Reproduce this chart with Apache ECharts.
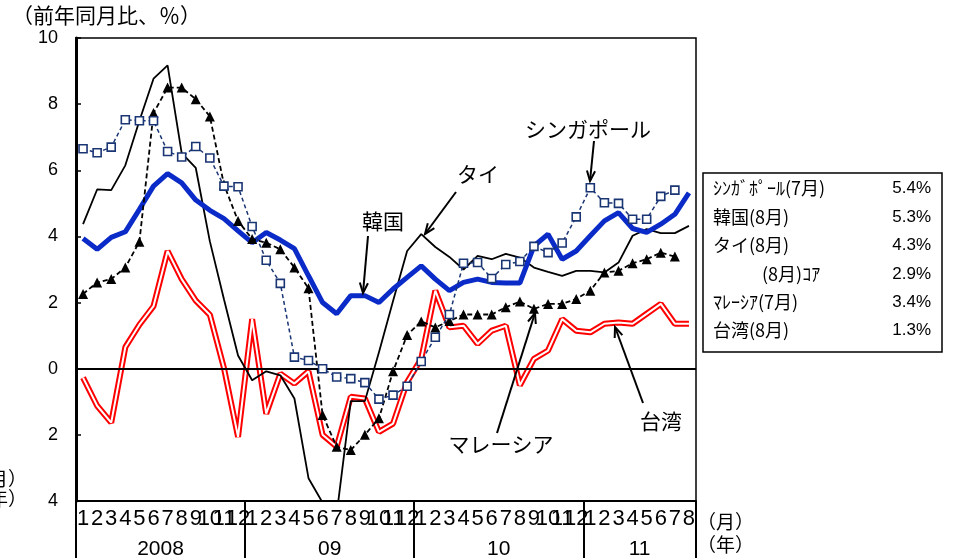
<!DOCTYPE html>
<html><head><meta charset="utf-8">
<script src="https://cdn.jsdelivr.net/npm/echarts@6/dist/echarts.min.js"></script>
<style>html,body{margin:0;padding:0;background:#fff}#c{width:953px;height:560px}</style>
</head><body><div id="c"></div>
<script>
// ---- data ----
const categories = [
 '2008-01','2008-02','2008-03','2008-04','2008-05','2008-06','2008-07','2008-08','2008-09','2008-10','2008-11','2008-12',
 '2009-01','2009-02','2009-03','2009-04','2009-05','2009-06','2009-07','2009-08','2009-09','2009-10','2009-11','2009-12',
 '2010-01','2010-02','2010-03','2010-04','2010-05','2010-06','2010-07','2010-08','2010-09','2010-10','2010-11','2010-12',
 '2011-01','2011-02','2011-03','2011-04','2011-05','2011-06','2011-07','2011-08'];
const monthLabels = ['1','2','3','4','5','6','7','8','9','10','11','12',
 '1','2','3','4','5','6','7','8','9','10','11','12',
 '1','2','3','4','5','6','7','8','9','10','11','12',
 '1','2','3','4','5','6','7','8'];
const yearLabels = ['2008','09','10','11'];
const yearLabelPos = [6, 18, 30, 40];
const yearBounds = [0, 12, 24, 36, 44];

const singapore = [6.65,6.53,6.70,7.53,7.50,7.50,6.57,6.40,6.72,6.37,5.52,5.50,
 4.30,3.28,2.58,0.35,0.25,0.00,-0.25,-0.30,-0.42,-0.92,-0.80,-0.53,
 0.22,0.95,1.64,3.19,3.21,2.73,3.15,3.24,3.70,3.51,3.80,4.59,
 5.47,5.02,5.00,4.52,4.52,5.21,5.40,null];
const korea = [3.94,3.61,3.97,4.14,4.82,5.52,5.90,5.62,5.10,4.79,4.54,4.17,
 3.81,4.12,3.89,3.63,2.81,2.00,1.66,2.21,2.21,2.00,2.41,2.76,
 3.11,2.71,2.36,2.61,2.71,2.61,2.59,2.59,3.71,4.07,3.31,3.56,
 4.02,4.47,4.72,4.24,4.12,4.37,4.67,5.32];
const thailand = [4.37,5.42,5.40,6.15,7.50,8.77,9.17,6.52,6.07,3.85,2.10,0.40,
 -0.35,-0.08,-0.20,-0.90,-3.31,-4.05,-4.40,-0.98,-0.98,0.50,2.05,3.56,
 4.07,3.68,3.38,3.00,3.41,3.31,3.47,3.36,3.06,2.93,2.81,2.96,
 2.96,2.91,3.21,4.02,4.22,4.10,4.10,4.32];
const malaysia = [2.26,2.61,2.71,3.06,3.84,7.73,8.50,8.50,8.15,7.63,5.57,4.47,
 3.92,3.81,3.61,3.06,2.43,-1.40,-2.36,-2.46,-2.00,-1.50,-0.08,1.02,
 1.43,1.25,1.44,1.64,1.64,1.64,1.86,2.03,1.81,1.96,1.96,2.11,
 2.36,2.91,2.96,3.19,3.31,3.51,3.39,null];
const taiwan = [-0.27,-1.12,-1.63,0.65,1.33,1.89,3.56,2.71,2.06,1.63,0.02,-2.06,
 1.50,-1.36,-0.15,-0.45,-0.08,-2.00,-2.36,-0.85,-0.90,-1.91,-1.66,-0.40,
 0.30,2.36,1.25,1.30,0.75,1.15,1.30,-0.50,0.30,0.55,1.50,1.15,
 1.10,1.36,1.40,1.36,1.66,1.96,1.36,1.36];

const legendNames = ['ｼﾝｶﾞﾎﾟｰﾙ(7月)','韓国(8月)','タイ(8月)','(8月)ｺｱ','ﾏﾚｰｼｱ(7月)','台湾(8月)'];
const legendValues = ['5.4%','5.3%','4.3%','2.9%','3.4%','1.3%'];

// ---- chart ----
const JP = '"Noto Sans CJK JP", sans-serif';
const AR = '"Liberation Sans", Arial, sans-serif';
const chart = echarts.init(document.getElementById('c'), null, {renderer:'canvas'});

function txt(text, x, y, size, align, font){
  return {type:'text', x:x, y:y, z:100, silent:true,
    style:{text:text, font: size+'px '+(font||JP), fill:'#000',
      textAlign:align||'left', textVerticalAlign:'middle', align:align||'left', verticalAlign:'middle'}};
}
function arrow(x1,y1,x2,y2){
  const a = Math.atan2(y2-y1, x2-x1), L = 11, w = 0.38;
  return [
    {type:'line', z:100, silent:true, shape:{x1:x1,y1:y1,x2:x2,y2:y2}, style:{stroke:'#000', lineWidth:2}},
    {type:'polyline', z:100, silent:true, shape:{points:[
      [x2 - L*Math.cos(a-w), y2 - L*Math.sin(a-w)], [x2,y2],
      [x2 - L*Math.cos(a+w), y2 - L*Math.sin(a+w)]]}, style:{stroke:'#000', lineWidth:2, fill:null}}
  ];
}

const graphics = [
  txt('（前年同月比、％）', 12, 15, 21, 'left'),
  txt('（月）', 27, 479, 19, 'right'),
  txt('（年）', 27, 499, 19, 'right'),
  txt('（月）', 697, 522, 19, 'left'),
  txt('（年）', 697, 545, 19, 'left'),
  txt('シンガポール', 588, 129, 21, 'center'),
  txt('タイ', 478, 174, 21, 'center'),
  txt('韓国', 383, 221, 21, 'center'),
  txt('マレーシア', 501, 444, 21, 'center'),
  txt('台湾', 661, 421, 21, 'center'),
  ...arrow(594,141,590,181),
  ...arrow(456,192,425,234),
  ...arrow(368,236,363,293),
  ...arrow(497,433,535,313),
  ...arrow(643,403,615,327),
  {type:'rect', z:90, silent:true, shape:{x:703,y:173,width:239,height:179},
   style:{fill:'#fff', stroke:'#000', lineWidth:1.5}}
];
const rowY = [188,217,245,274,302,330];
legendNames.forEach((n,i)=>{
  graphics.push(txt(n, i===3?762:713, rowY[i], 18, 'left'));
  graphics.push(txt(legendValues[i], 931, rowY[i], 17, 'right', AR));
});

const option = {
  animation:false,
  backgroundColor:'#fff',
  grid:{left:76, right:257, top:38, bottom:57, show:true, borderColor:'#000', borderWidth:1.5, backgroundColor:'transparent'},
  xAxis:[
    {type:'category', data:categories, boundaryGap:true, position:'bottom',
     axisLine:{show:true, onZero:false, lineStyle:{color:'#000', width:2}},
     axisTick:{show:false},
     axisLabel:{interval:0, margin:7, fontSize:22, fontFamily:AR, color:'#000',
       formatter:(v, i)=>monthLabels[i]}},
    {type:'value', min:0, max:44, position:'bottom',
     axisLine:{show:false, onZero:false},
     splitLine:{show:false},
     axisTick:{show:true, inside:false, length:57, customValues:yearBounds, lineStyle:{color:'#000', width:2}},
     axisLabel:{show:true, customValues:yearLabelPos, margin:38, fontSize:21, fontFamily:AR, color:'#000',
       formatter:(v)=>yearLabels[yearLabelPos.indexOf(v)]}}
  ],
  yAxis:{type:'value', min:-4, max:10, interval:2,
    axisLine:{show:true, lineStyle:{color:'#000', width:3}},
    axisTick:{show:true, inside:true, length:5, lineStyle:{color:'#000', width:1.5}},
    splitLine:{show:false},
    axisLabel:{margin:18, fontSize:18, fontFamily:AR, color:'#000', formatter:(v)=>String(Math.abs(v))}},
  series:[
    {name:'台湾', type:'line', data:taiwan, symbol:'none', z:2,
     lineStyle:{color:'#ff0000', width:6},
     markLine:{silent:true, symbol:'none', label:{show:false}, animation:false,
       lineStyle:{color:'#000', width:2, type:'solid'}, data:[{yAxis:0}]}},
    {name:'台湾_inner', type:'line', data:taiwan, symbol:'none', z:3,
     lineStyle:{color:'#ffffff', width:2}},
    {name:'タイ', type:'line', data:thailand, symbol:'none', z:4,
     lineStyle:{color:'#000', width:1.8}},
    {name:'韓国', type:'line', data:korea, symbol:'none', z:5,
     lineStyle:{color:'#0a2bc8', width:5}},
    {name:'マレーシア', type:'line', data:malaysia, symbol:'triangle', symbolSize:10, z:6,
     itemStyle:{color:'#000'}, lineStyle:{color:'#000', width:1.8, type:[5,3]}},
    {name:'シンガポール', type:'line', data:singapore, symbol:'rect', symbolSize:8, z:7,
     itemStyle:{color:'#fff', borderColor:'#1a3574', borderWidth:1.6},
     lineStyle:{color:'#1a3574', width:1.5, type:[4,3]}}
  ],
  graphic:graphics
};
chart.setOption(option);
</script></body></html>
